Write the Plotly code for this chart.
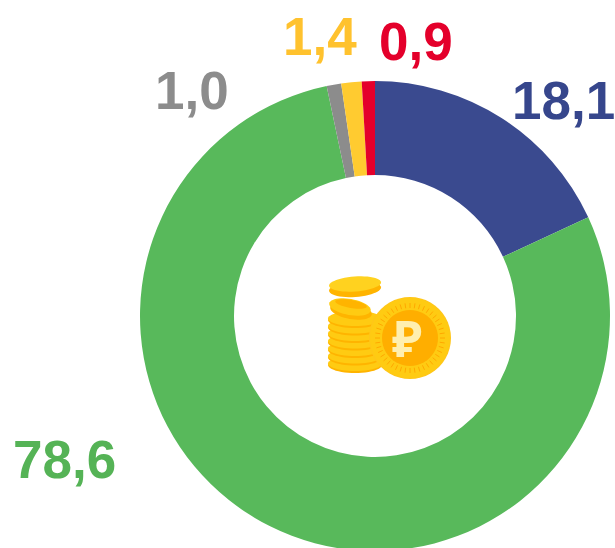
import math
import plotly.graph_objects as go

labels = ["A", "B", "C", "D", "E"]
values = [18.1, 78.6, 1.0, 1.4, 0.9]
value_labels = ["18,1", "78,6", "1,0", "1,4", "0,9"]
colors = ["#3A4A8F", "#58B95B", "#8C8C8C", "#FFCB30", "#E4002B"]
label_colors = ["#36468C", "#55B356", "#8C8C8C", "#FFC22E", "#E4002B"]
label_pos = [(563, 100), (64, 459), (192, 91), (320, 37), (416, 41)]

W, H = 615, 552
CX, CY, R = 375, 316, 235


def px(x):
    return x / W


def py(y):
    return 1 - y / H


fig = go.Figure(go.Pie(
    labels=labels, values=values, hole=0.6, sort=False, direction="clockwise",
    rotation=0, textinfo="none", hoverinfo="label+value",
    marker=dict(colors=colors, line=dict(width=0)),
    domain=dict(x=[px(CX - R), px(CX + R)], y=[py(CY + R), py(CY - R)]),
    showlegend=False,
))

shapes = []


def ell(cx, cy, rx, ry, fill, tilt=0):
    t = math.radians(tilt)
    pts = []
    for k in range(48):
        a = 2 * math.pi * k / 48
        ex, ey = rx * math.cos(a), ry * math.sin(a)
        pts.append((px(cx + ex * math.cos(t) - ey * math.sin(t)), py(cy + ex * math.sin(t) + ey * math.cos(t))))
    path = "M" + " L".join(f"{a:.5f},{b:.5f}" for a, b in pts) + " Z"
    shapes.append(dict(type="path", xref="paper", yref="paper", path=path,
                       fillcolor=fill, line=dict(width=0), layer="above"))


def seg(x0, y0, x1, y1, color, w=1):
    shapes.append(dict(type="line", xref="paper", yref="paper", x0=px(x0), x1=px(x1), y0=py(y0), y1=py(y1),
                       line=dict(color=color, width=w), layer="above"))


GOLD, DARK, LIGHT = "#FFCB12", "#FFB400", "#FFD21F"
# stacked coins, bottom to top
for i in range(7):
    y = 365 - i * 7.5
    ell(355, y, 27, 8, DARK)
    ell(355, y - 1.5, 27, 7.5, GOLD)
# tilted middle coin
ell(351, 311, 21, 8, DARK, 10)
ell(350, 307, 21, 8, GOLD, 10)
ell(351, 304, 16, 4, DARK, 10)
# top coin
ell(355, 289, 26, 8, DARK, -4)
ell(355, 284, 26, 7.5, LIGHT, -4)
# front coin
ell(410, 338, 41, 41, "#FFC61A")
ell(410, 338, 40, 40, GOLD)
for k in range(44):
    a = 2 * math.pi * k / 44
    seg(410 + 30 * math.cos(a), 338 + 30 * math.sin(a), 410 + 35 * math.cos(a), 338 + 35 * math.sin(a), "#FFA800", 1)
ell(410, 338, 28, 28, "#FFAE00")

ann = [dict(text=f"<b>{t}</b>", x=px(x), y=py(y), xref="paper", yref="paper", showarrow=False,
            xanchor="center", yanchor="middle", font=dict(family="Liberation Sans", size=53, color=c))
       for t, (x, y), c in zip(value_labels, label_pos, label_colors)]
ann.append(dict(text="<b>₽</b>", x=px(407), y=py(338), xref="paper", yref="paper", showarrow=False,
                xanchor="center", yanchor="middle", font=dict(family="Noto Sans", size=50, color="#FFEFB0")))

fig.update_layout(width=W, height=H, margin=dict(l=0, r=0, t=0, b=0), paper_bgcolor="white",
                  shapes=shapes, annotations=ann)
fig.write_html("out.html", config=dict(displayModeBar=False),
               post_script="document.body.style.margin='0';document.documentElement.style.overflow='hidden';")
